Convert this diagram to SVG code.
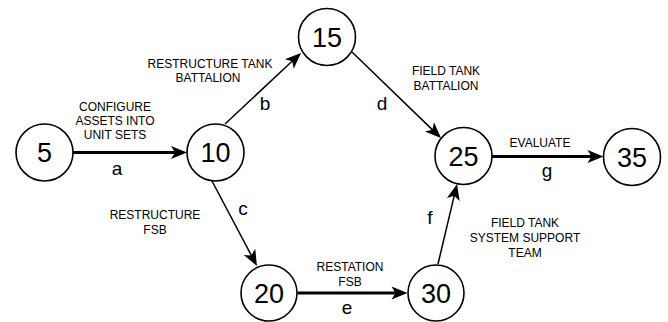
<svg xmlns="http://www.w3.org/2000/svg" width="668" height="322" viewBox="0 0 668 322">
<style>
.node circle{fill:#fff;stroke:#000;stroke-width:1.6}
.num{font-family:"Liberation Sans",Arial,sans-serif;font-size:27px;text-anchor:middle;fill:#000}
.lbl{font-family:"Liberation Sans",Arial,sans-serif;font-size:12px;text-anchor:middle;fill:#000}
.let{font-family:"Liberation Sans",Arial,sans-serif;font-size:19px;text-anchor:middle;fill:#000}
.thin{stroke:#000;stroke-width:1.5;fill:none;marker-end:url(#ah)}
.thick{stroke:#000;stroke-width:3.2;fill:none;marker-end:url(#ah)}
</style>
<defs>
<marker id="ah" viewBox="-17 -7 18 14" refX="-10" refY="0" markerWidth="18" markerHeight="14" markerUnits="userSpaceOnUse" orient="auto">
<path d="M0,0 L-16,-6.5 L-12,0 L-16,6.5 Z" fill="#000"/>
</marker>
</defs>
<g id="connectors">
<line class="thick" x1="73" y1="152.5" x2="177" y2="152.5"/>
<line class="thin" x1="225" y1="124" x2="293.7" y2="59.8"/>
<line class="thin" x1="212" y1="181" x2="252.3" y2="257.2"/>
<line class="thin" x1="352" y1="52" x2="433.8" y2="131.1"/>
<line class="thick" x1="297.5" y1="293" x2="397.5" y2="293"/>
<line class="thin" x1="438" y1="264" x2="454.7" y2="193.7"/>
<line class="thick" x1="492" y1="156.5" x2="593.5" y2="156.5"/>
</g>
<g id="labels">
<text class="lbl" x="115" y="111">CONFIGURE</text>
<text class="lbl" x="115" y="125">ASSETS INTO</text>
<text class="lbl" x="115" y="139">UNIT SETS</text>
<text class="let" x="117" y="175">a</text>
<text class="lbl" x="210" y="68">RESTRUCTURE TANK</text>
<text class="lbl" x="208" y="82">BATTALION</text>
<text class="let" x="265" y="110">b</text>
<text class="lbl" x="446" y="75">FIELD TANK</text>
<text class="lbl" x="446" y="90">BATTALION</text>
<text class="let" x="382" y="110">d</text>
<text class="lbl" x="155" y="219">RESTRUCTURE</text>
<text class="lbl" x="155" y="234">FSB</text>
<text class="let" x="243" y="215">c</text>
<text class="lbl" x="350" y="271">RESTATION</text>
<text class="lbl" x="350" y="286">FSB</text>
<text class="let" x="347" y="314">e</text>
<text class="let" x="430" y="224">f</text>
<text class="lbl" x="525" y="227">FIELD TANK</text>
<text class="lbl" x="525" y="242">SYSTEM SUPPORT</text>
<text class="lbl" x="525" y="257">TEAM</text>
<text class="lbl" x="540" y="147">EVALUATE</text>
<text class="let" x="547" y="177">g</text>
</g>
<g id="n5" class="node"><circle cx="44.5" cy="152.5" r="28.5"/><text class="num" x="44.5" y="162">5</text></g>
<g id="n10" class="node"><circle cx="215.5" cy="152.5" r="28.5"/><text class="num" x="215.5" y="162">10</text></g>
<g id="n15" class="node"><circle cx="327" cy="37" r="28.5"/><text class="num" x="327" y="46.5">15</text></g>
<g id="n20" class="node"><circle cx="269" cy="293" r="28"/><text class="num" x="269" y="302.5">20</text></g>
<g id="n25" class="node"><circle cx="463.5" cy="156" r="28.5"/><text class="num" x="463.5" y="165.5">25</text></g>
<g id="n30" class="node"><circle cx="436" cy="293" r="28"/><text class="num" x="436" y="302.5">30</text></g>
<g id="n35" class="node"><circle cx="632" cy="157" r="28.5"/><text class="num" x="632" y="166.5">35</text></g>
</svg>
